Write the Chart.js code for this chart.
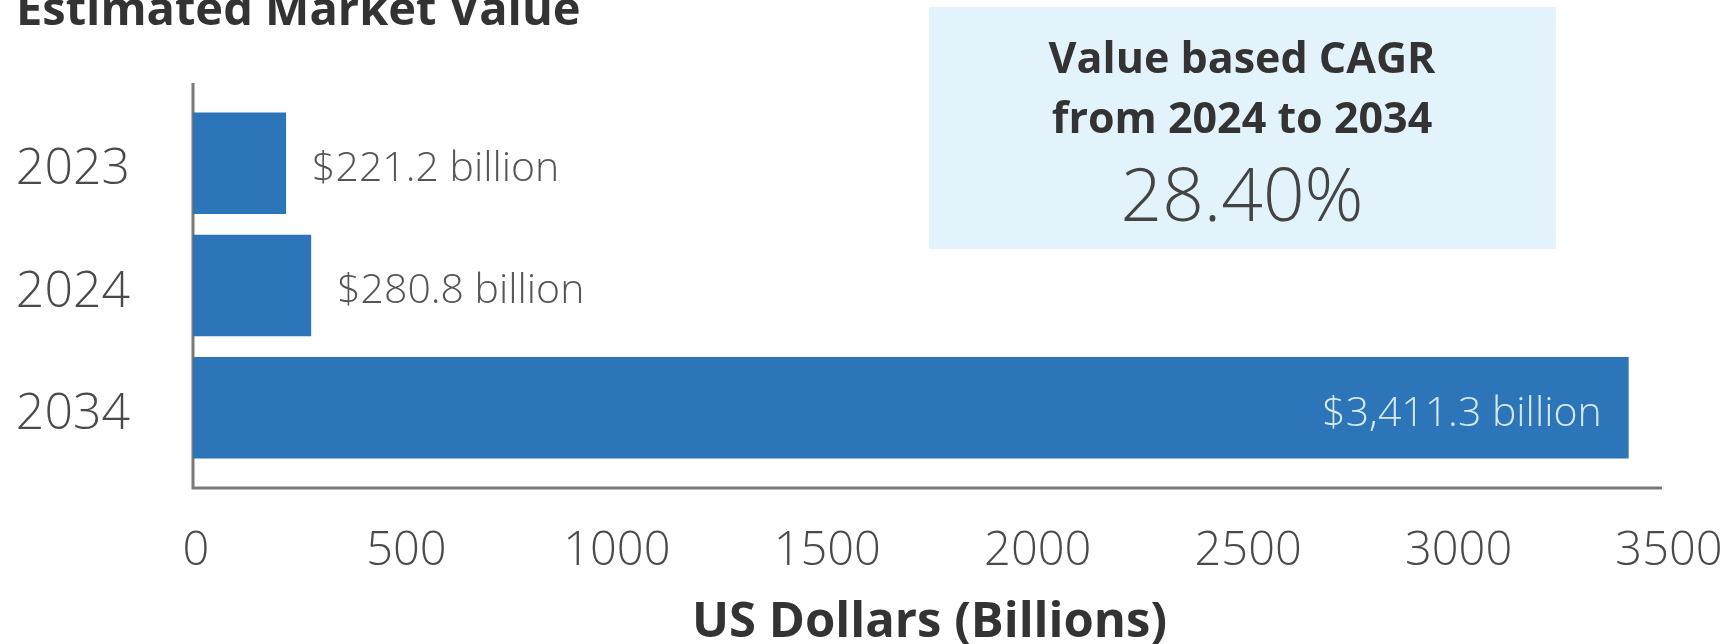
<!DOCTYPE html>
<html>
<head>
<meta charset="utf-8">
<script src="https://cdn.jsdelivr.net/npm/chart.js@4"></script>
<style>
  html, body { margin: 0; padding: 0; background: #fff; }
  #wrap { width: 1728px; height: 644px; }
</style>
</head>
<body>
<div id="wrap"><canvas id="barChart"></canvas></div>
<script>
  const years = ['2023', '2024', '2034'];
  const marketValue = [221.2, 280.8, 3411.3];
  const valueLabels = ['$221.2 billion', '$280.8 billion', '$3,411.3 billion'];
  const xTicks = [0, 500, 1000, 1500, 2000, 2500, 3000, 3500];
  const chartTitle = 'Estimated Market Value';
  const cagrLines = ['Value based CAGR', 'from 2024 to 2034'];
  const cagrValue = '28.40%';

  const FONT = '"Open Sans", "Noto Sans", sans-serif';

  // axis lines, title, CAGR box and bar labels
  const extras = {
    id: 'extras',
    beforeDraw(chart) {
      const c = chart.ctx;
      const a = chart.chartArea;
      c.save();
      c.fillStyle = '#fff';
      c.fillRect(0, 0, chart.width, chart.height);

      // title (runs off the top edge)
      c.fillStyle = '#333';
      c.font = 'bold 47px ' + FONT;
      c.textAlign = 'left';
      c.textBaseline = 'alphabetic';
      c.fillText(chartTitle, 16, 25);

      // CAGR box
      c.fillStyle = '#e2f3fc';
      c.fillRect(929, 7, 627, 242);
      c.fillStyle = '#333';
      c.textAlign = 'center';
      c.textBaseline = 'middle';
      c.font = 'bold 43px ' + FONT;
      c.fillText(cagrLines[0], 1242, 61);
      c.fillText(cagrLines[1], 1242, 121);
      c.fillStyle = '#444';
      c.font = '300 73px ' + FONT;
      c.fillText(cagrValue, 1242, 200);

      // axes
      c.strokeStyle = '#7a7a7a';
      c.lineWidth = 3;
      c.beginPath();
      c.moveTo(a.left, a.top - 19);
      c.lineTo(a.left, a.bottom + 19);
      c.lineTo(a.right - 4, a.bottom + 19);
      c.stroke();
      c.restore();
    },
    afterDatasetsDraw(chart) {
      const c = chart.ctx;
      const meta = chart.getDatasetMeta(0);
      c.save();
      c.font = '300 41px ' + FONT;
      c.textBaseline = 'middle';
      meta.data.forEach((bar, i) => {
        if (marketValue[i] > 1000) {
          c.fillStyle = '#d8e9f6';
          c.textAlign = 'right';
          c.fillText(valueLabels[i], bar.x - 27, bar.y + 6);
        } else {
          c.fillStyle = '#555';
          c.textAlign = 'left';
          c.fillText(valueLabels[i], bar.x + 26, bar.y + 6);
        }
      });
      c.restore();
    }
  };

  const ctx = document.getElementById('barChart');

  new Chart(ctx, {
    type: 'bar',
    data: {
      labels: years,
      datasets: [{
        label: 'US Dollars (Billions)',
        data: marketValue,
        backgroundColor: '#2c75b8',
        borderWidth: 0,
        barPercentage: 0.83,
        categoryPercentage: 1
      }]
    },
    options: {
      indexAxis: 'y',
      responsive: true,
      maintainAspectRatio: false,
      animation: false,
      layout: { padding: { left: 16, top: 102, right: 62, bottom: 0 } },
      plugins: {
        legend: { display: false },
        tooltip: { enabled: false }
      },
      scales: {
        x: {
          min: 0,
          max: 3500,
          afterBuildTicks: (scale) => { scale.ticks = xTicks.map(v => ({ value: v })); },
          afterFit: (scale) => {
            scale.height = 175;
            scale.paddingLeft = 0;
            scale.paddingRight = 0;
          },
          grid: { display: false, drawTicks: false },
          border: { display: false },
          ticks: {
            color: '#4a4a4a',
            padding: 54,
            labelOffset: 3,
            callback: (v) => String(v),
            font: { family: FONT, size: 47, weight: '300' }
          },
          title: {
            display: true,
            text: 'US Dollars (Billions)',
            color: '#333',
            font: { family: FONT, size: 49, weight: 'bold' },
            padding: { top: 0, bottom: -8 }
          }
        },
        y: {
          afterFit: (scale) => { scale.width = 177; },
          grid: { display: false, drawTicks: false },
          border: { display: false },
          ticks: {
            color: '#4a4a4a',
            padding: 63,
            labelOffset: 7,
            font: { family: FONT, size: 50, weight: '300' }
          }
        }
      }
    },
    plugins: [extras]
  });
</script>
</body>
</html>
